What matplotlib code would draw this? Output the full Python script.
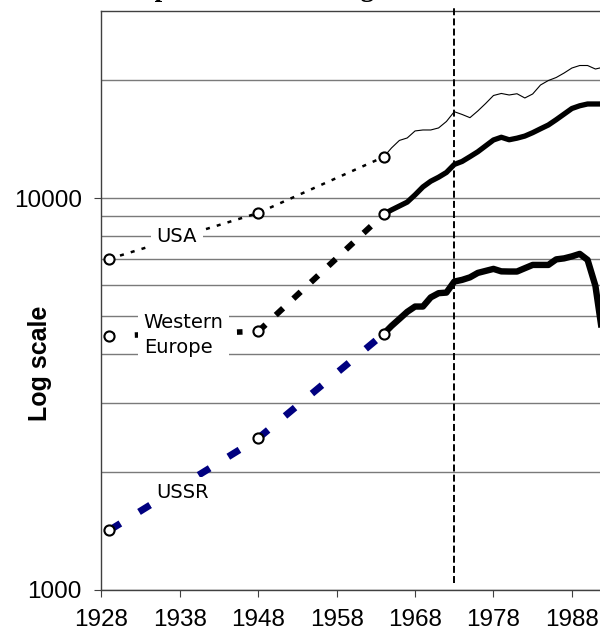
import numpy as np
import matplotlib.pyplot as plt
from matplotlib.ticker import FixedLocator, NullFormatter, FuncFormatter

plt.rcParams['lines.scale_dashes'] = False

# benchmark years (open circles) joined by broken lines
years_bench = [1929, 1948, 1964]
usa_bench = [7000, 9170, 12745]
we_bench = [4455, 4570, 9100]
ussr_bench = [1420, 2440, 4506]

# annual series
years = list(range(1964, 1993))
usa = [12745, 13440, 14045, 14250, 14850, 14935, 14935, 15115, 15700, 16630,
       16360, 16055, 16700, 17450, 18290, 18510, 18345, 18480, 18025, 18455,
       19455, 19975, 20330, 20870, 21495, 21815, 21815, 21370, 21600]
we = [9103, 9336, 9552, 9774, 10200, 10686, 11050, 11315, 11635, 12195,
      12413, 12766, 13139, 13603, 14083, 14309, 14100, 14233, 14410, 14700,
      15040, 15380, 15866, 16396, 16944, 17219, 17400, 17400, 17400]
ussr = [4506, 4721, 4919, 5128, 5291, 5291, 5583, 5723, 5743, 6127,
        6189, 6281, 6447, 6524, 6601, 6506, 6500, 6500, 6628, 6757,
        6757, 6757, 6981, 7022, 7105, 7210, 6960, 5975, 4350]

x_ticks = [1928, 1938, 1948, 1958, 1968, 1978, 1988]
y_ticks = [1000, 10000]
y_grid = [2000, 3000, 4000, 5000, 6000, 7000, 8000, 9000, 20000]
marker_year = 1973

fig = plt.figure(figsize=(6, 6.38), dpi=100)
ax = fig.add_axes([101.4 / 600, 48 / 638, 509.7 / 600, 578.7 / 638])
ax.set_yscale('log')
ax.set_xlim(1928, 1993)
ax.set_ylim(1000, 30000)

# grid
ax.yaxis.set_major_locator(FixedLocator(y_ticks))
ax.yaxis.set_minor_locator(FixedLocator(y_grid))
ax.yaxis.set_major_formatter(FuncFormatter(lambda v, p: '%d' % v))
ax.yaxis.set_minor_formatter(NullFormatter())
for v in y_ticks + y_grid:
    ax.axhline(v, color='#7a7a7a', lw=1.0, zorder=1)

ax.xaxis.set_major_locator(FixedLocator(x_ticks))
ax.xaxis.set_major_formatter(FuncFormatter(lambda v, p: '%d' % v))

for s in ['left', 'bottom', 'top']:
    ax.spines[s].set_color('#404040')
    ax.spines[s].set_linewidth(1.0)
ax.spines['right'].set_visible(False)

ax.tick_params(axis='both', which='major', direction='out', length=5,
               width=0.8, color='#404040', labelsize=17.5)
ax.tick_params(axis='y', which='major', pad=9)
ax.tick_params(axis='x', which='major', pad=9)
ax.tick_params(axis='y', which='minor', length=0)
for lab in ax.get_xticklabels() + ax.get_yticklabels():
    lab.set_fontfamily('Liberation Sans')

ax.set_ylabel('Log scale', fontsize=18, fontweight='bold',
              fontfamily='Liberation Sans')
ax.yaxis.set_label_coords(-0.097, 0.391)

# early benchmark segments
ax.plot(years_bench, usa_bench, color='black', lw=1.8,
        dashes=(2.9, 5.2), dash_capstyle='butt', zorder=3)
ax.plot(years_bench[:2], we_bench[:2], color='black', lw=4.0,
        dashes=(4.0, 14.4), dash_capstyle='butt', zorder=3)
ax.plot(years_bench[1:], we_bench[1:], color='black', lw=4.3,
        dashes=(7.2, 10.1), dash_capstyle='butt', zorder=3)
ax.plot(years_bench, ussr_bench, color='#000080', lw=5.0,
        dashes=(9.4, 15.8), dash_capstyle='butt', zorder=3)

# annual series
ax.plot(years, usa, color='black', lw=0.8, zorder=4)
ax.plot(years, we, color='black', lw=3.8, zorder=4)
ax.plot(years, ussr, color='black', lw=4.6, zorder=4)

# benchmark circles
for vals in [usa_bench, we_bench, ussr_bench]:
    ax.plot(years_bench, vals, 'o', ms=7.3, mfc='white', mec='black',
            mew=1.5, zorder=6)

ax.axvline(marker_year, ymin=0.012, ymax=1.008, color='black', lw=1.4,
           dashes=(5, 2.3), clip_on=False, zorder=5)

box = dict(boxstyle='square,pad=0.3', fc='white', ec='none')
ax.text(1937.6, 7980, 'USA', fontsize=14, ha='center', va='center',
        bbox=box, zorder=5)
ax.text(1933.4, 4482, 'Western\nEurope', fontsize=14, ha='left',
        va='center', linespacing=1.38, bbox=box, zorder=5)
ax.text(1938.4, 1778, 'USSR', fontsize=14, ha='center', va='center',
        bbox=box, zorder=5)

# title, mostly cut off by the top of the image
fig.text(110 / 600, 1 + 4 / 638, 'Output of the three big economies',
         ha='left', va='baseline', fontfamily='Liberation Serif',
         fontweight='bold', fontsize=19.4)

fig.savefig('out.png', dpi=100)
